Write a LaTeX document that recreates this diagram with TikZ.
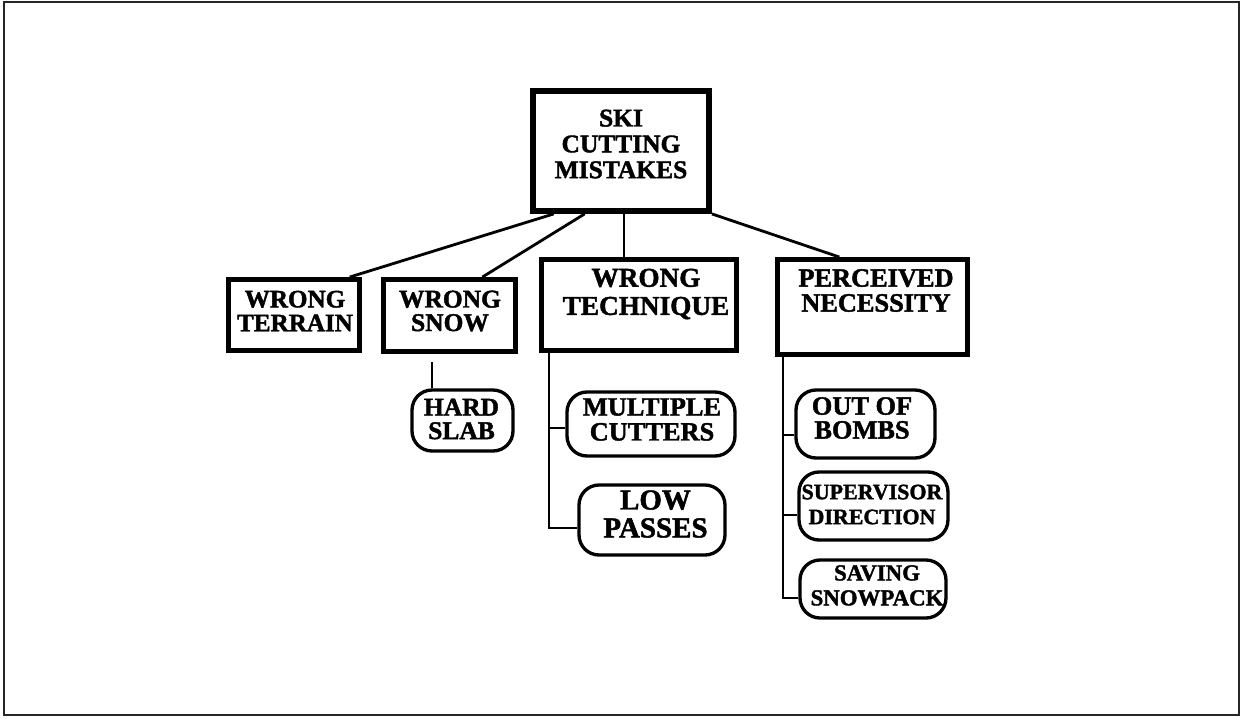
\documentclass[tikz,border=0pt]{standalone}
\usepackage{fontspec}
\setmainfont{Liberation Serif}[BoldFeatures={FakeBold=1.6}]
\usepackage{tikz}
\usetikzlibrary{positioning,calc}

\newcommand{\boxfont}[2]{\fontsize{#1}{#2}\selectfont\bfseries}

\tikzset{
  mainbox/.style={draw, rectangle, line width=2.8pt},
  leafbox/.style={draw, rectangle, rounded corners=0.4cm, line width=1.9pt},
  lbl/.style={align=center, inner sep=0pt},
  branch/.style={line width=1.6pt},
  leg/.style={line width=1.1pt}
}

\begin{document}
\begin{tikzpicture}[x=0.02cm, y=-0.02cm]
    \useasboundingbox (0,0) rectangle (1242,718);
    % Frame
    \draw[line width=1.2pt, black!85] (4,2) rectangle (1239,715);

    % Root
    \node[mainbox, line width=3.3pt, minimum width=3.52cm, minimum height=2.4cm] (root) at (621,151) {};
    \node[lbl, font=\boxfont{14.5}{14.7}] (rootlbl) at (621,144) {SKI\\CUTTING\\MISTAKES};

    % Causes
    \node[mainbox, minimum width=2.62cm, minimum height=1.42cm] (terrain) at (294,315) {};
    \node[lbl, font=\boxfont{14.3}{13.6}] (terrainlbl) at (295,311) {WRONG\\TERRAIN};
    \node[mainbox, minimum width=2.64cm, minimum height=1.44cm] (snow) at (449.5,315.5) {};
    \node[lbl, font=\boxfont{14.5}{13.4}] (snowlbl) at (450,311) {WRONG\\SNOW};
    \node[mainbox, minimum width=3.9cm, minimum height=1.82cm] (tech) at (639,305) {};
    \node[lbl, font=\boxfont{15.5}{16}] (techlbl) at (646,294) {WRONG\\TECHNIQUE};
    \node[mainbox, minimum width=3.8cm, minimum height=1.9cm] (perc) at (872.5,307) {};
    \node[lbl, font=\boxfont{15}{14.2}] (perclbl) at (876,290.5) {PERCEIVED\\NECESSITY};

    % Details
    \node[leafbox, minimum width=2.02cm, minimum height=1.22cm] (slab) at (462.5,420.5) {};
    \node[lbl, font=\boxfont{14.5}{13.4}] (slablbl) at (461.5,419) {HARD\\SLAB};
    \node[leafbox, minimum width=3.36cm, minimum height=1.28cm] (mult) at (651,424) {};
    \node[lbl, font=\boxfont{15}{14.2}] (multlbl) at (652,419.5) {MULTIPLE\\CUTTERS};
    \node[leafbox, minimum width=2.92cm, minimum height=1.4cm] (low) at (652,520) {};
    \node[lbl, font=\boxfont{16.5}{15.9}] (lowlbl) at (655.5,514) {LOW\\PASSES};
    \node[leafbox, minimum width=2.78cm, minimum height=1.36cm] (bombs) at (865.5,424) {};
    \node[lbl, font=\boxfont{15}{13.6}] (bombslbl) at (862,418) {OUT OF\\BOMBS};
    \node[leafbox, minimum width=2.98cm, minimum height=1.36cm] (super) at (873.5,506) {};
    \node[lbl, font=\boxfont{12.5}{14.2}] (superlbl) at (872,504.5) {SUPERVISOR\\DIRECTION};
    \node[leafbox, minimum width=2.92cm, minimum height=1.16cm] (saving) at (873,589) {};
    \node[lbl, font=\boxfont{13}{14.2}] (savinglbl) at (877,585.5) {SAVING\\SNOWPACK};

    % Lines from the root
    \coordinate (techtop) at ($(tech.north west)!0.425!(tech.north east)$);
    \draw[branch] ($(root.south west)!0.13!(root.south east)$) -- ($(terrain.north west)!0.91!(terrain.north east)$);
    \draw[branch] ($(root.south west)!0.30!(root.south east)$) -- ($(snow.north west)!0.74!(snow.north east)$);
    \draw[branch] (techtop |- root.south) -- (techtop);
    \draw[branch] (root.south east) -- ($(perc.north west)!0.33!(perc.north east)$);

    % Legs to the details
    \coordinate (slabtop) at ($(slab.north west)!0.21!(slab.north east)$);
    \draw[leg] (slabtop) -- ++(0,-26);
    \coordinate (techleg) at ($(tech.south west)!0.05!(tech.south east)$);
    \draw[leg] (techleg) |- ([yshift=-0.08cm]mult.west);
    \draw[leg] (techleg) |- ([yshift=-0.16cm]low.west);
    \coordinate (percleg) at ($(perc.south west)!0.04!(perc.south east)$);
    \draw[leg] (percleg) |- ([yshift=-0.22cm]bombs.west);
    \draw[leg] (percleg) |- ([yshift=-0.18cm]super.west);
    \draw[leg] (percleg) |- ([yshift=-0.18cm]saving.west);
\end{tikzpicture}
\end{document}
